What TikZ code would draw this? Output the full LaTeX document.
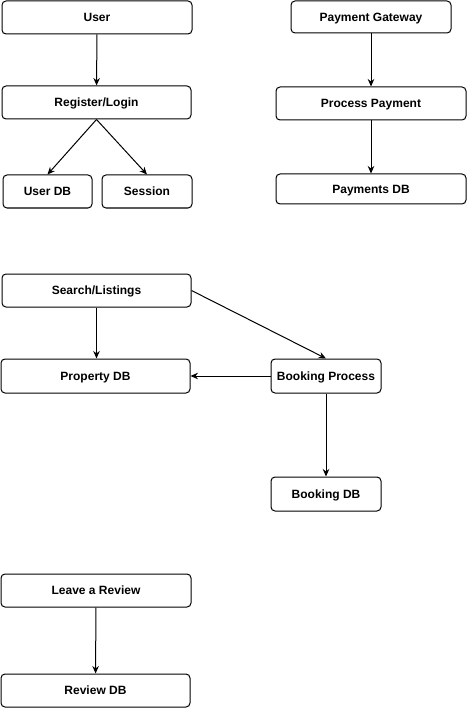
\documentclass[tikz,border=0pt]{standalone}
\usepackage{fontspec}
\setmainfont{Liberation Sans}
\usetikzlibrary{arrows.meta}
\newcommand{\px}{0.75pt}

\begin{document}
\begin{tikzpicture}[x=0.75pt, y=-0.75pt,
    box/.style={draw, rectangle, rounded corners=4*\px, minimum height=33*\px, inner sep=0pt, text height=6.5pt, text depth=0pt, line width=\px, font=\fontsize{9}{11}\selectfont\bfseries},
    link/.style={line width=\px, -{Stealth[length=7.5*\px, width=6.5*\px]}}]
    \useasboundingbox (0,0) rectangle (467,709);

    % Login
    \node[box, minimum width=190*\px] (box-user) at (97,17.5) {User};
    \node[box, minimum width=189*\px] (box-login) at (96.5,102.5) {Register/Login};
    \node[box, minimum width=89*\px] (box-userdb) at (47.5,191.5) {User DB};
    \node[box, minimum width=90*\px] (box-session) at (147,191.5) {Session};

    % Payment
    \node[box, minimum width=160*\px, minimum height=32*\px] (box-gateway) at (371,17) {Payment Gateway};
    \node[box, minimum width=190*\px] (box-payment) at (371,103.5) {Process Payment};
    \node[box, minimum width=190*\px, minimum height=30*\px] (box-paydb) at (371,189) {Payments DB};

    % Booking
    \node[box, minimum width=189*\px] (box-search) at (96.5,290.5) {Search/Listings};
    \node[box, minimum width=189*\px, minimum height=34*\px] (box-property) at (95.5,376) {Property DB};
    \node[box, minimum width=110*\px, minimum height=34*\px] (box-booking) at (326,376) {Booking Process};
    \node[box, minimum width=110*\px, minimum height=34*\px] (box-bookdb) at (326,494) {Booking DB};

    % Review
    \node[box, minimum width=190*\px] (box-review) at (96,590.5) {Leave a Review};
    \node[box, minimum width=189*\px] (box-reviewdb) at (95.5,690.5) {Review DB};

    \draw[link] (box-user) -- (box-login);
    \draw[link] (box-login.south) -- (box-userdb.north);
    \draw[link] (box-login.south) -- (box-session.north);
    \draw[link] (box-gateway) -- (box-payment);
    \draw[link] (box-payment) -- (box-paydb);
    \draw[link] (box-search.east) -- (box-booking.north);
    \draw[link] (box-search) -- (box-search |- box-property.north);
    \draw[link] (box-booking) -- (box-property);
    \draw[link] (box-booking) -- (box-bookdb);
    \draw[link] (box-review) -- (box-reviewdb);

\end{tikzpicture}
\end{document}
